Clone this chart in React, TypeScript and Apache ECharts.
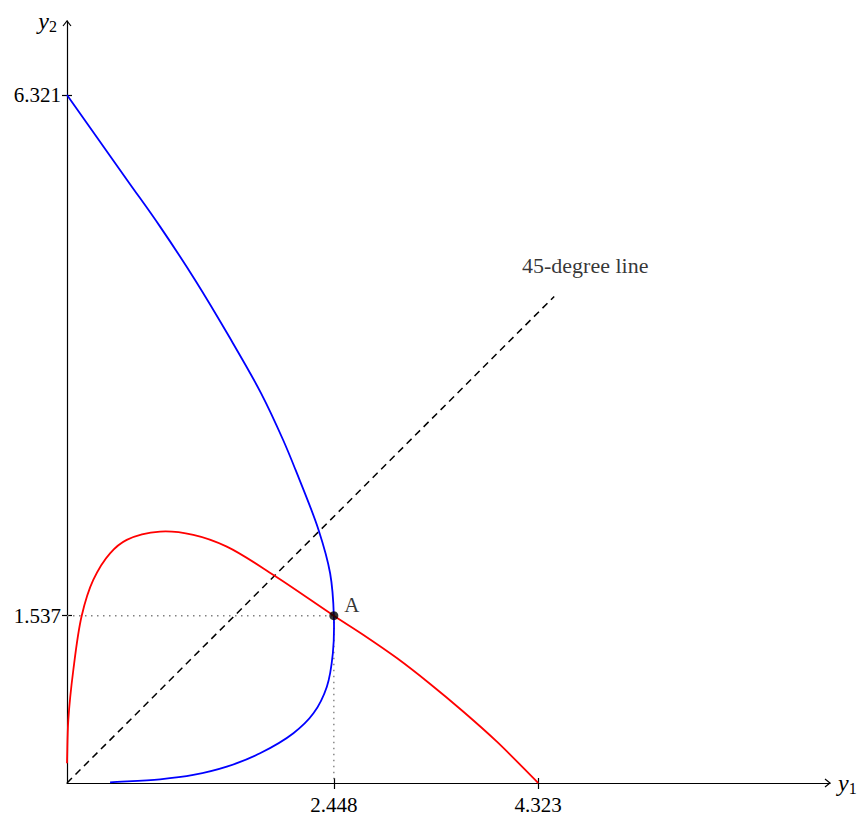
import React, { useEffect, useRef } from "react";
import * as echarts from "echarts";

// Blue curve (y1, y2)
const blueCurve: [number, number][] = [
  [0, 6.321],
  [0.551, 5.54],
  [0.854, 5.111],
  [1.175, 4.621],
  [1.487, 4.101],
  [1.781, 3.58],
  [1.983, 3.151],
  [2.097, 2.876],
  [2.308, 2.325],
  [2.414, 1.927],
  [2.448, 1.537],
  [2.439, 1.192],
  [2.384, 0.885],
  [2.261, 0.64],
  [2.077, 0.457],
  [1.771, 0.273],
  [1.466, 0.15],
  [1.159, 0.074],
  [0.854, 0.034],
  [0.395, 0.006],
];

// Red curve (y1, y2)
const redCurve: [number, number][] = [
  [0, 0.181],
  [0.012, 0.579],
  [0.058, 1.038],
  [0.135, 1.537],
  [0.241, 1.865],
  [0.395, 2.11],
  [0.548, 2.233],
  [0.854, 2.309],
  [1.159, 2.279],
  [1.466, 2.171],
  [1.894, 1.911],
  [2.448, 1.537],
  [2.72, 1.36],
  [3.026, 1.148],
  [3.332, 0.91],
  [3.637, 0.655],
  [3.944, 0.38],
  [4.323, 0],
];

const diagonal: [number, number][] = [
  [0, 0],
  [4.47, 4.47],
];
const pointA: [number, number] = [2.448, 1.537];
const xTicks = [2.448, 4.323];
const yTicks = [1.537, 6.321];
const axisMax = 7;
const diagLabelPos: [number, number] = [4.754, 4.75];
const diagLabelText = "45-degree line";
const pointLabel = "A";

// Centripetal Catmull-Rom through pixel points -> SVG path
function splinePath(pts: number[][]): string {
  const n = pts.length;
  if (n < 2) return "";
  const get = (i: number): number[] => {
    if (i < 0) return [2 * pts[0][0] - pts[1][0], 2 * pts[0][1] - pts[1][1]];
    if (i >= n) return [2 * pts[n - 1][0] - pts[n - 2][0], 2 * pts[n - 1][1] - pts[n - 2][1]];
    return pts[i];
  };
  const dist = (a: number[], b: number[]) => Math.max(1e-6, Math.sqrt(Math.hypot(a[0] - b[0], a[1] - b[1])));
  let d = `M${pts[0][0]},${pts[0][1]}`;
  for (let i = 0; i < n - 1; i++) {
    const p0 = get(i - 1), p1 = get(i), p2 = get(i + 1), p3 = get(i + 2);
    const d1 = dist(p0, p1), d2 = dist(p1, p2), d3 = dist(p2, p3);
    const c1 = [0, 1].map(
      (k) => (d1 * d1 * p2[k] - d2 * d2 * p0[k] + (2 * d1 * d1 + 3 * d1 * d2 + d2 * d2) * p1[k]) / (3 * d1 * (d1 + d2))
    );
    const c2 = [0, 1].map(
      (k) => (d3 * d3 * p1[k] - d2 * d2 * p3[k] + (2 * d3 * d3 + 3 * d3 * d2 + d2 * d2) * p2[k]) / (3 * d3 * (d3 + d2))
    );
    d += ` C${c1[0]},${c1[1]} ${c2[0]},${c2[1]} ${p2[0]},${p2[1]}`;
  }
  return d;
}

function curveSeries(points: [number, number][], color: string) {
  return {
    type: "custom",
    data: points,
    encode: { x: 0, y: 1 },
    z: 3,
    renderItem: (params: any, api: any) => {
      if (params.dataIndex !== 0) return null;
      const px = points.map((p) => api.coord(p));
      return {
        type: "path",
        shape: { pathData: splinePath(px) },
        style: { stroke: color, fill: "none", lineWidth: 1.8 },
      };
    },
  };
}

export default function App() {
  const ref = useRef<HTMLDivElement>(null);

  useEffect(() => {
    document.body.style.margin = "0";
    const chart = echarts.init(ref.current!, null, { renderer: "svg" });
    const font = '"Liberation Serif", "DejaVu Serif", serif';
    const axisCommon = {
      type: "value",
      min: 0,
      max: axisMax,
      splitLine: { show: false },
    };
    const nameRich = {
      i: { fontFamily: font, fontStyle: "italic", fontSize: 24, color: "#000" },
      s: { fontFamily: font, fontSize: 16, color: "#000", padding: [10, 0, 0, 0] },
    };

    chart.setOption({
      animation: false,
      grid: { left: 67, top: 21, width: 763, height: 762 },
      xAxis: [
        {
          ...axisCommon,
          position: "bottom",
          name: "{i|y}{s|1}",
          nameLocation: "end",
          nameGap: 8,
          nameTextStyle: { verticalAlign: "middle", rich: nameRich },
          axisLine: { show: true, onZero: false, lineStyle: { color: "#000", width: 1.2 } },
          axisTick: {
            show: true,
            customValues: xTicks,
            length: 6,
            lineStyle: { color: "#000", width: 1.2 },
          },
          axisLabel: {
            show: true,
            customValues: xTicks,
            margin: 11,
            fontFamily: font,
            fontSize: 21,
            color: "#000",
          },
        },
        {
          ...axisCommon,
          position: "bottom",
          axisLine: { show: false, onZero: false },
          axisTick: {
            show: true,
            inside: true,
            customValues: xTicks,
            length: 5,
            lineStyle: { color: "#000", width: 1.2 },
          },
          axisLabel: { show: false },
        },
      ],
      yAxis: [
        {
          ...axisCommon,
          position: "left",
          name: "{i|y}{s|2}",
          nameLocation: "end",
          nameGap: 0,
          nameTextStyle: {
            align: "right",
            verticalAlign: "middle",
            padding: [0, 10, 0, 0],
            rich: nameRich,
          },
          axisLine: { show: true, onZero: false, lineStyle: { color: "#000", width: 1.2 } },
          axisTick: {
            show: true,
            customValues: yTicks,
            length: 5,
            lineStyle: { color: "#000", width: 1.2 },
          },
          axisLabel: {
            show: true,
            customValues: yTicks,
            margin: 6,
            fontFamily: font,
            fontSize: 21,
            color: "#000",
          },
        },
        {
          ...axisCommon,
          position: "left",
          axisLine: { show: false, onZero: false },
          axisTick: {
            show: true,
            inside: true,
            customValues: yTicks,
            length: 5,
            lineStyle: { color: "#000", width: 1.2 },
          },
          axisLabel: { show: false },
        },
      ],
      series: [
        {
          type: "line",
          data: [
            [0, pointA[1]],
            [pointA[0], pointA[1]],
          ],
          showSymbol: false,
          lineStyle: { color: "#808080", width: 1.4, type: [1.5, 4.5] },
          z: 1,
        },
        {
          type: "line",
          data: [
            [pointA[0], pointA[1]],
            [pointA[0], 0],
          ],
          showSymbol: false,
          lineStyle: { color: "#808080", width: 1.4, type: [1.5, 4.5] },
          z: 1,
        },
        {
          type: "line",
          data: diagonal,
          showSymbol: false,
          lineStyle: { color: "#000", width: 1.5, type: [7, 5] },
          z: 2,
        },
        curveSeries(blueCurve, "#0000ff"),
        curveSeries(redCurve, "#ff0000"),
        {
          type: "scatter",
          data: [pointA],
          symbolSize: 9,
          itemStyle: { color: "#000" },
          label: {
            show: true,
            formatter: pointLabel,
            position: "right",
            distance: 6,
            offset: [0, -11],
            fontFamily: font,
            fontSize: 21,
            color: "#000",
          },
          z: 5,
        },
        {
          type: "scatter",
          data: [diagLabelPos],
          symbolSize: 0,
          label: {
            show: true,
            formatter: diagLabelText,
            position: "inside",
            fontFamily: font,
            fontSize: 22,
            color: "#000",
          },
          z: 5,
        },
      ],
    });

    const xEnd = chart.convertToPixel({ xAxisIndex: 0, yAxisIndex: 0 }, [axisMax, 0]) as number[];
    const yEnd = chart.convertToPixel({ xAxisIndex: 0, yAxisIndex: 0 }, [0, axisMax]) as number[];
    const arrowStyle = { stroke: "#000", lineWidth: 1.2, fill: "none" };
    chart.setOption({
      graphic: [
        {
          type: "polyline",
          shape: {
            points: [
              [xEnd[0] - 5, xEnd[1] - 4],
              [xEnd[0], xEnd[1]],
              [xEnd[0] - 5, xEnd[1] + 4],
            ],
          },
          style: arrowStyle,
          z: 10,
        },
        {
          type: "polyline",
          shape: {
            points: [
              [yEnd[0] - 4, yEnd[1] + 5],
              [yEnd[0], yEnd[1]],
              [yEnd[0] + 4, yEnd[1] + 5],
            ],
          },
          style: arrowStyle,
          z: 10,
        },
      ],
    });

    return () => chart.dispose();
  }, []);

  return <div ref={ref} style={{ width: 861, height: 815 }} />;
}
